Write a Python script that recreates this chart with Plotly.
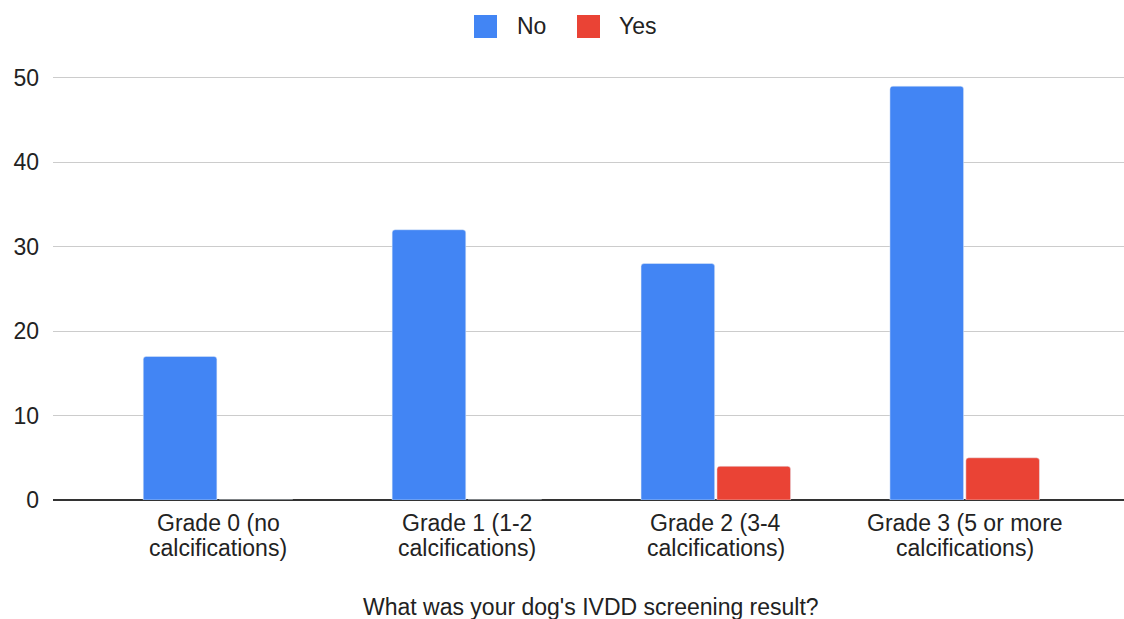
import plotly.graph_objects as go

categories = [
    "Grade 0 (no calcifications)",
    "Grade 1 (1-2 calcifications)",
    "Grade 2 (3-4 calcifications)",
    "Grade 3 (5 or more calcifications)",
]
category_lines = [
    ("Grade 0 (no", "calcifications)"),
    ("Grade 1 (1-2", "calcifications)"),
    ("Grade 2 (3-4", "calcifications)"),
    ("Grade 3 (5 or more", "calcifications)"),
]
series_names = ["No", "Yes"]
no_values = [17, 32, 28, 49]
yes_values = [0, 0, 4, 5]
y_ticks = [0, 10, 20, 30, 40, 50]
x_title = "What was your dog's IVDD screening result?"

COLORS = ["#4285f4", "#ea4335"]
FONT = "Liberation Sans, Arial, sans-serif"
TEXT = "#222222"
FS = 23

W, H = 1124, 619
L, R, T, B = 53, 0, 76, 119
PW, PH = W - L - R, H - T - B


def px_x(x):
    return (x - L) / PW


def px_y(y):
    return (H - B - y) / PH


fig = go.Figure()
for name, vals, col in zip(series_names, [no_values, yes_values], COLORS):
    fig.add_trace(go.Bar(name=name, x=categories, y=vals, marker_color=col,
                         showlegend=False))

# Legend: rounded swatches + labels centred above the plot
legend_items = [(474, 515), (577, 617)]
for (sx, tx), name, col in zip(legend_items, series_names, COLORS):
    fig.add_shape(type="rect", xref="paper", yref="paper",
                  x0=px_x(sx), x1=px_x(sx + 23), y0=px_y(38), y1=px_y(15),
                  fillcolor=col, line=dict(width=0), layer="above")
    fig.add_annotation(text=name, xref="paper", yref="paper",
                       x=px_x(tx), y=px_y(26.5), xanchor="left", yanchor="middle",
                       showarrow=False, font=dict(size=FS, color=TEXT))

# Category labels, two tightly spaced lines under each group
for cat, (l1, l2) in zip(categories, category_lines):
    for txt, py in ((l1, 523), (l2, 547.5)):
        fig.add_annotation(text=txt, xref="x", yref="paper", x=cat, y=px_y(py),
                           xanchor="center", yanchor="middle", showarrow=False,
                           font=dict(size=FS, color=TEXT))

# Horizontal axis title
fig.add_annotation(text=x_title, xref="paper", yref="paper", x=px_x(591),
                   y=px_y(607), xanchor="center", yanchor="middle",
                   showarrow=False, font=dict(size=FS, color=TEXT))

fig.update_layout(
    width=W,
    height=H,
    margin=dict(l=L, r=R, t=T, b=B),
    plot_bgcolor="white",
    paper_bgcolor="white",
    barmode="group",
    bargap=0.39,
    bargroupgap=0.03,
    barcornerradius=3,
    font=dict(family=FONT, size=FS, color=TEXT),
    showlegend=False,
    xaxis=dict(
        range=[-0.663, 3.64],
        showgrid=False,
        showline=False,
        ticks="",
        showticklabels=False,
    ),
    yaxis=dict(
        range=[0, 50.2],
        tickvals=y_ticks,
        showgrid=True,
        gridcolor="#cccccc",
        gridwidth=1,
        zeroline=True,
        zerolinecolor="#333333",
        zerolinewidth=2,
        ticks="",
        ticklabelstandoff=13,
        tickfont=dict(size=FS, color=TEXT),
    ),
)

fig.write_html("out.html")
